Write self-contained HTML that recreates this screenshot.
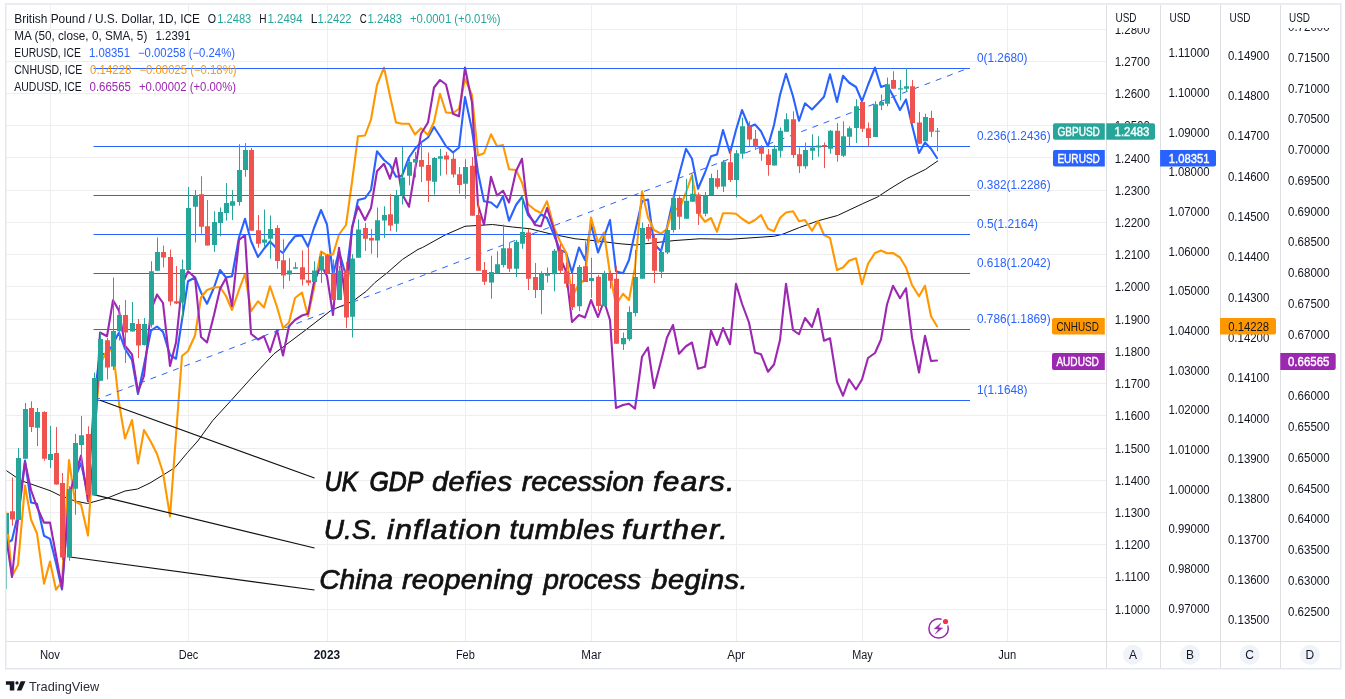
<!DOCTYPE html>
<html><head><meta charset="utf-8"><title>GBPUSD chart</title>
<style>html,body{margin:0;padding:0;background:#fff;width:1345px;height:699px;overflow:hidden}</style></head>
<body>
<svg width="1345" height="699" viewBox="0 0 1345 699" style="position:absolute;left:0;top:0;font-family:'Liberation Sans',sans-serif">
<rect width="1345" height="699" fill="#fff"/>
<defs><clipPath id="pane"><rect x="6" y="5" width="1100" height="636.5"/></clipPath></defs>
<path d="M6 29.5H1106 M6 61.5H1106 M6 93.5H1106 M6 125.5H1106 M6 157.5H1106 M6 190.5H1106 M6 222.5H1106 M6 254.5H1106 M6 286.5H1106 M6 319.5H1106 M6 351.5H1106 M6 383.5H1106 M6 415.5H1106 M6 448.5H1106 M6 480.5H1106 M6 512.5H1106 M6 544.5H1106 M6 577.5H1106 M6 609.5H1106 M50.5 5V641 M188.5 5V641 M327.5 5V641 M465.5 5V641 M591.5 5V641 M736.5 5V641 M862.5 5V641 M1007.5 5V641" stroke="#eeeeee" stroke-width="1" fill="none"/>
<g clip-path="url(#pane)">
<polyline points="5.5,470 21,480.6 50,490.6 59,495 75,501 87.5,503.5 107.5,498 125,491 137.5,489 150,483 168,472 175,467.5 187.5,452.5 197.75,441 212.75,420.5 231.5,400 254,375 274,353.75 304,331.25 331.5,310 344,305 352.75,301.25 366.25,291.25 375,282.5 387.5,272.5 402.5,259.4 418,249.4 422.5,247.5 445,235 465,226.25 492.5,224.5 512.5,227 530,228.75 550,233.75 575,238.75 600,241.25 620,243.75 635,245 650,243.25 675,240.5 700,238.75 730,239.25 774.25,236.25 782.5,234.25 799.5,227.5 818.25,220.75 837.5,215.5 862.5,203.75 877.5,197 890,188.75 906.5,178.75 925.25,169.5 938,160.75" fill="none" stroke="#111" stroke-width="1" stroke-linejoin="round"/>
<polyline points="6.0,543.90 12.0,540.00 18.0,514.50 25.0,460.60 31.0,502.50 37.0,503.75 44.0,535.75 50.0,538.90 56.0,563.00 62.0,589.50 69.0,497.00 75.0,478.00 81.0,463.00 88.0,495.00 94.0,400.00 100.0,352.50 107.0,355.60 113.0,343.75 119.0,332.50 125.0,348.75 132.0,360.00 138.0,394.00 144.0,365.00 151.0,330.60 157.0,326.50 163.0,331.90 170.0,355.00 176.0,358.75 182.0,320.00 188.0,281.25 195.0,277.50 201.0,292.50 207.0,303.75 214.0,287.50 220.0,270.00 226.0,277.50 232.0,276.25 239.0,237.50 245.0,218.75 251.0,241.00 258.0,257.00 264.0,248.75 270.0,241.50 277.0,248.75 283.0,253.00 289.0,243.75 295.0,236.25 302.0,235.50 308.0,246.75 314.0,228.00 321.0,210.00 327.0,224.50 333.0,275.00 339.0,251.00 346.0,276.00 352.0,229.00 358.0,200.00 365.0,198.25 371.0,190.00 377.0,151.25 384.0,160.00 390.0,165.00 396.0,176.75 402.0,175.75 409.0,157.50 415.0,148.75 421.0,142.50 428.0,137.50 434.0,127.00 440.0,136.25 446.0,146.25 453.0,152.50 459.0,147.50 465.0,97.00 472.0,130.00 478.0,172.50 484.0,201.25 491.0,202.50 497.0,207.50 503.0,196.25 509.0,220.75 516.0,205.00 522.0,197.00 528.0,215.00 535.0,223.00 541.0,214.25 547.0,218.00 554.0,235.00 560.0,250.00 566.0,252.50 572.0,272.50 579.0,247.50 585.0,260.00 591.0,223.75 598.0,252.50 604.0,237.00 610.0,220.00 616.0,271.25 623.0,273.25 629.0,260.00 635.0,232.00 642.0,201.25 648.0,199.50 654.0,243.75 661.0,251.25 667.0,227.50 673.0,200.00 679.0,175.00 686.0,148.75 692.0,158.75 698.0,188.75 705.0,172.50 711.0,156.25 717.0,154.50 723.0,130.00 730.0,153.00 736.0,130.00 742.0,110.00 749.0,127.00 755.0,124.50 761.0,131.25 768.0,146.25 774.0,125.00 780.0,95.00 786.0,73.75 793.0,96.25 799.0,120.75 805.0,103.25 812.0,109.50 818.0,103.25 824.0,96.75 830.0,74.25 837.0,102.00 843.0,75.75 849.0,82.50 856.0,87.00 862.0,101.25 868.0,85.00 875.0,67.50 881.0,87.00 887.0,85.00 893.0,95.75 900.0,110.00 906.0,99.50 912.0,125.00 919.0,153.00 925.0,142.50 931.0,148.75 937.0,158.00" fill="none" stroke="#2962ff" stroke-width="2.1" stroke-linejoin="round" stroke-linecap="round"/>
<polyline points="6.0,512.00 12.0,576.00 18.0,565.00 25.0,485.50 31.0,519.50 37.0,533.50 44.0,583.60 50.0,561.60 56.0,589.70 62.0,581.70 69.0,460.00 75.0,501.25 81.0,504.50 88.0,535.50 94.0,440.00 100.0,365.00 107.0,350.00 113.0,350.00 119.0,403.00 125.0,438.50 132.0,420.00 138.0,463.50 144.0,430.00 151.0,442.00 157.0,454.00 163.0,472.50 170.0,516.50 176.0,435.00 182.0,356.00 188.0,351.00 195.0,335.50 201.0,297.50 207.0,290.00 214.0,287.50 220.0,287.00 226.0,296.00 232.0,310.00 239.0,290.00 245.0,273.75 251.0,311.25 258.0,301.25 264.0,307.50 270.0,286.25 277.0,307.00 283.0,328.00 289.0,322.50 295.0,298.00 302.0,292.50 308.0,316.25 314.0,288.00 321.0,251.50 327.0,255.30 333.0,254.50 339.0,234.50 346.0,225.00 352.0,182.00 358.0,136.25 365.0,135.50 371.0,119.50 377.0,85.00 384.0,67.50 390.0,96.00 396.0,122.50 402.0,123.75 409.0,123.75 415.0,134.50 421.0,128.25 428.0,135.00 434.0,122.00 440.0,93.75 446.0,112.50 453.0,113.00 459.0,108.75 465.0,78.75 472.0,95.00 478.0,155.50 484.0,153.25 491.0,134.25 497.0,146.25 503.0,145.00 509.0,169.25 516.0,170.00 522.0,182.50 528.0,204.25 535.0,210.00 541.0,213.00 547.0,201.25 554.0,227.50 560.0,241.25 566.0,252.50 572.0,297.00 579.0,283.75 585.0,280.00 591.0,217.50 598.0,242.50 604.0,232.50 610.0,273.75 616.0,305.00 623.0,293.75 629.0,300.00 635.0,267.50 642.0,191.25 648.0,217.50 654.0,230.00 661.0,233.75 667.0,228.75 673.0,207.50 679.0,210.00 686.0,192.50 692.0,175.00 698.0,212.50 705.0,221.75 711.0,218.00 717.0,231.75 723.0,213.25 730.0,213.25 736.0,213.75 742.0,218.75 749.0,223.25 755.0,220.00 761.0,215.00 768.0,228.75 774.0,231.25 780.0,218.00 786.0,212.50 793.0,211.25 799.0,221.25 805.0,220.00 812.0,230.75 818.0,220.75 824.0,235.00 830.0,238.00 837.0,270.00 843.0,267.50 849.0,260.75 856.0,258.25 862.0,284.25 868.0,263.75 875.0,253.00 881.0,250.50 887.0,253.25 893.0,253.00 900.0,257.50 906.0,267.50 912.0,285.00 919.0,296.25 925.0,285.75 931.0,316.25 937.0,326.25" fill="none" stroke="#ff9800" stroke-width="2.1" stroke-linejoin="round" stroke-linecap="round"/>
<polyline points="6.0,535.75 12.0,577.00 18.0,519.50 25.0,462.00 31.0,490.00 37.0,507.00 44.0,522.60 50.0,522.60 56.0,555.00 62.0,588.00 69.0,495.00 75.0,476.00 81.0,455.60 88.0,501.25 94.0,456.00 100.0,332.50 107.0,336.25 113.0,300.25 119.0,310.60 125.0,345.60 132.0,354.40 138.0,392.00 144.0,376.00 151.0,310.00 157.0,294.60 163.0,303.00 170.0,365.90 176.0,342.50 182.0,285.00 188.0,271.25 195.0,277.50 201.0,337.00 207.0,342.50 214.0,315.00 220.0,289.00 226.0,278.00 232.0,306.00 239.0,240.00 245.0,235.00 251.0,333.75 258.0,339.50 264.0,336.25 270.0,352.00 277.0,330.00 283.0,355.50 289.0,326.25 295.0,320.00 302.0,315.50 308.0,313.75 314.0,282.00 321.0,265.00 327.0,276.00 333.0,315.00 339.0,247.75 346.0,305.00 352.0,227.50 358.0,206.25 365.0,220.00 371.0,208.00 377.0,171.25 384.0,163.75 390.0,178.75 396.0,158.00 402.0,193.75 409.0,206.75 415.0,170.00 421.0,133.75 428.0,122.50 434.0,87.50 440.0,80.00 446.0,84.50 453.0,113.75 459.0,116.25 465.0,67.50 472.0,102.50 478.0,205.00 484.0,224.70 491.0,176.75 497.0,195.50 503.0,190.75 509.0,202.50 516.0,171.25 522.0,158.75 528.0,212.50 535.0,225.00 541.0,226.25 547.0,208.00 554.0,230.00 560.0,257.50 566.0,271.25 572.0,322.00 579.0,315.00 585.0,317.50 591.0,300.00 598.0,317.00 604.0,301.00 610.0,320.00 616.0,408.00 623.0,405.00 629.0,403.75 635.0,408.75 642.0,356.75 648.0,347.50 654.0,388.00 661.0,361.25 667.0,337.50 673.0,325.00 679.0,353.75 686.0,346.25 692.0,342.50 698.0,368.75 705.0,366.75 711.0,330.50 717.0,345.00 723.0,328.00 730.0,344.25 736.0,283.75 742.0,303.75 749.0,322.50 755.0,352.50 761.0,354.25 768.0,371.75 774.0,364.50 780.0,340.00 786.0,283.75 793.0,330.00 799.0,334.25 805.0,318.00 812.0,327.00 818.0,308.75 824.0,340.75 830.0,338.25 837.0,381.75 843.0,395.75 849.0,379.25 856.0,389.50 862.0,379.50 868.0,358.00 875.0,353.00 881.0,339.50 887.0,304.50 893.0,285.75 900.0,298.25 906.0,288.25 912.0,337.50 919.0,372.50 925.0,335.75 931.0,361.00 937.0,360.50" fill="none" stroke="#9c27b0" stroke-width="2.1" stroke-linejoin="round" stroke-linecap="round"/>
<path d="M93.5 68.5H970 M93.5 146.5H970 M93.5 195.5H970 M93.5 234.5H970 M93.5 273.5H970 M93.5 329.5H970 M93.5 400.5H970" stroke="#2962ff" stroke-width="1.1" fill="none"/>
<path d="M94.5 400.3L968 68.3" stroke="#2962ff" stroke-width="1" stroke-dasharray="6 6" fill="none"/>
<text x="977" y="61.9" font-size="12" fill="#2962ff" textLength="50.5" lengthAdjust="spacingAndGlyphs">0(1.2680)</text>
<text x="977" y="139.9" font-size="12" fill="#2962ff" textLength="73.6" lengthAdjust="spacingAndGlyphs">0.236(1.2436)</text>
<text x="977" y="188.9" font-size="12" fill="#2962ff" textLength="73.6" lengthAdjust="spacingAndGlyphs">0.382(1.2286)</text>
<text x="977" y="227.9" font-size="12" fill="#2962ff" textLength="61.1" lengthAdjust="spacingAndGlyphs">0.5(1.2164)</text>
<text x="977" y="266.9" font-size="12" fill="#2962ff" textLength="73.6" lengthAdjust="spacingAndGlyphs">0.618(1.2042)</text>
<text x="977" y="322.9" font-size="12" fill="#2962ff" textLength="73.6" lengthAdjust="spacingAndGlyphs">0.786(1.1869)</text>
<text x="977" y="393.9" font-size="12" fill="#2962ff" textLength="50.5" lengthAdjust="spacingAndGlyphs">1(1.1648)</text>
<path d="M100 400.3L314.5 478M93.8 494.6L314.5 548M70 557L314.5 590" stroke="#111" stroke-width="1.2" fill="none"/>
<path d="M6.5 513.00V589.00 M18.5 448.00V520.00 M25.5 403.00V458.75 M37.5 408.00V446.00 M50.5 426.00V468.00 M69.5 486.25V560.75 M75.5 434.00V514.75 M81.5 416.00V469.50 M94.5 372.50V495.40 M100.5 332.50V380.75 M113.5 277.50V370.00 M119.5 305.00V340.60 M132.5 302.00V331.50 M144.5 318.00V345.60 M151.5 261.25V327.50 M157.5 237.50V271.00 M182.5 259.50V318.75 M188.5 187.00V270.00 M195.5 190.00V242.50 M214.5 211.25V251.75 M220.5 207.50V236.25 M226.5 183.00V220.50 M232.5 190.00V220.00 M239.5 144.25V205.75 M245.5 143.00V176.75 M264.5 209.50V247.50 M270.5 215.50V258.75 M289.5 258.10V280.90 M295.5 262.25V268.75 M314.5 261.25V281.90 M321.5 252.25V282.90 M339.5 266.00V300.00 M352.5 254.10V337.50 M358.5 219.40V257.75 M377.5 207.50V257.75 M384.5 206.25V237.90 M396.5 190.00V231.90 M402.5 147.00V204.50 M409.5 157.50V185.25 M415.5 152.00V177.50 M434.5 157.00V194.50 M440.5 148.75V175.75 M465.5 159.25V198.75 M491.5 255.75V298.75 M497.5 251.25V273.25 M503.5 224.50V267.50 M516.5 240.00V277.00 M522.5 196.25V248.75 M541.5 271.25V314.25 M547.5 267.50V282.50 M554.5 249.00V291.25 M579.5 265.00V311.25 M591.5 257.70V297.80 M604.5 270.75V306.25 M623.5 332.50V350.00 M629.5 306.25V341.25 M635.5 250.00V316.25 M642.5 222.50V278.75 M661.5 248.75V278.00 M667.5 228.00V254.00 M673.5 195.00V232.50 M686.5 178.75V218.75 M692.5 175.00V201.75 M705.5 192.00V216.25 M711.5 173.75V195.00 M723.5 160.00V192.00 M736.5 150.00V197.50 M742.5 117.50V158.75 M774.5 145.00V165.50 M780.5 127.50V157.50 M786.5 113.25V131.75 M805.5 142.50V168.75 M812.5 134.25V160.00 M818.5 136.25V156.75 M830.5 130.00V153.75 M843.5 121.25V157.00 M849.5 126.25V146.25 M856.5 99.25V143.00 M875.5 101.25V137.00 M881.5 94.50V110.00 M887.5 77.50V106.25 M900.5 80.00V100.50 M906.5 68.00V91.25 M925.5 113.75V141.25 M937.5 128.00V151.25" stroke="#26a69a" stroke-width="1" fill="none"/>
<path d="M12.5 477.50V525.70 M31.5 401.25V432.00 M44.5 411.25V460.75 M56.5 427.00V484.60 M62.5 473.00V560.00 M88.5 426.25V501.00 M107.5 338.00V379.50 M125.5 300.00V363.00 M138.5 319.00V358.00 M163.5 245.50V267.50 M170.5 249.50V305.60 M176.5 266.00V304.00 M201.5 176.25V233.75 M207.5 200.00V245.50 M251.5 148.00V230.75 M258.5 215.00V247.75 M277.5 225.25V268.75 M283.5 239.40V288.75 M302.5 250.40V285.60 M308.5 246.90V285.60 M327.5 254.00V273.40 M333.5 259.40V300.00 M346.5 262.25V328.00 M365.5 223.10V250.90 M371.5 229.00V253.75 M390.5 194.25V230.90 M421.5 142.50V182.00 M428.5 152.50V202.00 M446.5 151.75V174.50 M453.5 152.50V177.50 M459.5 167.00V193.75 M472.5 157.00V215.75 M478.5 201.50V270.75 M484.5 262.00V285.00 M509.5 242.50V272.00 M528.5 228.75V290.00 M535.5 263.00V298.00 M560.5 244.00V274.00 M566.5 262.50V287.50 M572.5 273.20V310.00 M585.5 241.25V282.00 M598.5 274.90V311.00 M610.5 270.90V288.60 M616.5 266.25V343.75 M648.5 224.00V241.25 M654.5 233.75V283.00 M679.5 196.25V229.25 M698.5 192.50V225.00 M717.5 170.00V188.75 M730.5 150.00V182.00 M749.5 121.25V146.25 M755.5 130.00V150.00 M761.5 145.00V160.75 M768.5 149.00V175.75 M793.5 111.25V158.00 M799.5 147.50V173.00 M824.5 142.50V168.00 M837.5 123.00V161.75 M862.5 101.25V132.00 M868.5 122.50V146.25 M893.5 71.25V88.75 M912.5 80.00V123.00 M919.5 112.00V143.75 M931.5 110.75V137.00" stroke="#ef5350" stroke-width="1" fill="none"/>
<path d="M4.0 513.00h5V534.00h-5z M16.0 458.00h5V520.00h-5z M23.0 409.00h5V458.75h-5z M35.0 412.00h5V427.75h-5z M48.0 454.00h5V460.00h-5z M67.0 489.00h5V557.40h-5z M73.0 443.00h5V488.75h-5z M79.0 435.25h5V445.00h-5z M92.0 378.00h5V495.40h-5z M98.0 339.00h5V380.75h-5z M111.0 331.00h5V366.50h-5z M117.0 315.00h5V331.25h-5z M130.0 323.00h5V331.50h-5z M142.0 324.00h5V345.00h-5z M149.0 271.25h5V324.75h-5z M155.0 252.00h5V270.75h-5z M180.0 269.25h5V302.50h-5z M186.0 208.00h5V270.00h-5z M193.0 195.50h5V206.75h-5z M212.0 222.00h5V245.00h-5z M218.0 212.00h5V223.00h-5z M224.0 203.00h5V213.00h-5z M230.0 201.25h5V205.75h-5z M237.0 170.00h5V202.00h-5z M243.0 150.00h5V170.00h-5z M262.0 239.40h5V242.75h-5z M268.0 229.00h5V238.75h-5z M287.0 270.40h5V274.60h-5z M293.0 267.25h5V268.75h-5z M312.0 270.40h5V281.90h-5z M319.0 256.25h5V270.60h-5z M337.0 270.40h5V300.00h-5z M350.0 258.40h5V316.75h-5z M356.0 229.40h5V257.75h-5z M375.0 220.25h5V240.60h-5z M382.0 215.00h5V220.60h-5z M394.0 195.50h5V223.75h-5z M400.0 177.50h5V195.00h-5z M407.0 162.00h5V175.75h-5z M413.0 159.00h5V162.50h-5z M432.0 158.00h5V181.75h-5z M438.0 156.25h5V158.75h-5z M463.0 167.00h5V183.75h-5z M489.0 272.00h5V282.50h-5z M495.0 264.25h5V273.25h-5z M501.0 248.25h5V265.00h-5z M514.0 242.00h5V268.75h-5z M520.0 232.00h5V243.75h-5z M539.0 273.25h5V290.00h-5z M545.0 273.75h5V275.75h-5z M552.0 250.75h5V274.25h-5z M577.0 267.00h5V306.25h-5z M589.0 278.10h5V281.00h-5z M602.0 273.25h5V306.25h-5z M621.0 338.00h5V344.25h-5z M627.0 312.00h5V339.25h-5z M633.0 277.00h5V313.00h-5z M640.0 228.00h5V278.75h-5z M659.0 252.00h5V271.75h-5z M665.0 230.00h5V252.50h-5z M671.0 198.00h5V230.00h-5z M684.0 200.75h5V218.75h-5z M690.0 193.75h5V201.75h-5z M703.0 195.75h5V213.75h-5z M709.0 178.00h5V195.00h-5z M721.0 161.75h5V186.50h-5z M734.0 153.25h5V180.00h-5z M740.0 126.25h5V153.75h-5z M772.0 148.75h5V165.50h-5z M778.0 130.75h5V150.75h-5z M784.0 119.25h5V131.75h-5z M803.0 150.00h5V166.25h-5z M810.0 147.50h5V150.75h-5z M816.0 145.50h5V147.50h-5z M828.0 130.75h5V148.75h-5z M841.0 136.25h5V155.75h-5z M847.0 128.25h5V136.75h-5z M854.0 106.25h5V128.00h-5z M873.0 104.25h5V137.00h-5z M879.0 102.00h5V105.50h-5z M885.0 84.25h5V103.75h-5z M898.0 88.25h5V89.50h-5z M904.0 86.25h5V88.75h-5z M923.0 117.00h5V141.25h-5z M935.0 130.75h5V131.75h-5z" fill="#26a69a"/>
<path d="M10.0 511.30h5V519.50h-5z M29.0 408.00h5V427.00h-5z M42.0 412.00h5V458.75h-5z M54.0 453.00h5V484.60h-5z M60.0 483.00h5V557.50h-5z M86.0 434.00h5V495.00h-5z M105.0 340.25h5V367.50h-5z M123.0 315.00h5V332.50h-5z M136.0 324.00h5V345.60h-5z M161.0 252.00h5V257.50h-5z M168.0 257.00h5V301.50h-5z M174.0 301.25h5V303.50h-5z M199.0 194.25h5V226.75h-5z M205.0 226.25h5V245.50h-5z M249.0 150.00h5V230.75h-5z M256.0 230.25h5V243.75h-5z M275.0 228.10h5V260.90h-5z M281.0 260.25h5V275.60h-5z M300.0 267.25h5V279.60h-5z M306.0 280.25h5V282.75h-5z M325.0 255.25h5V273.40h-5z M331.0 273.40h5V300.00h-5z M344.0 270.40h5V317.50h-5z M363.0 228.10h5V238.75h-5z M369.0 238.10h5V240.60h-5z M388.0 214.25h5V225.60h-5z M419.0 160.00h5V166.75h-5z M426.0 165.00h5V180.75h-5z M444.0 155.50h5V159.50h-5z M451.0 158.75h5V174.50h-5z M457.0 174.25h5V185.00h-5z M470.0 165.75h5V215.75h-5z M476.0 215.00h5V270.75h-5z M482.0 270.00h5V281.75h-5z M507.0 248.25h5V268.75h-5z M526.0 232.50h5V278.75h-5z M533.0 277.00h5V290.00h-5z M558.0 250.75h5V270.75h-5z M564.0 271.25h5V283.75h-5z M570.0 284.00h5V307.30h-5z M583.0 266.25h5V282.00h-5z M596.0 276.80h5V306.10h-5z M608.0 273.40h5V280.80h-5z M614.0 278.75h5V343.75h-5z M646.0 227.00h5V238.75h-5z M652.0 238.00h5V270.75h-5z M677.0 198.00h5V216.75h-5z M696.0 194.50h5V213.75h-5z M715.0 178.25h5V186.75h-5z M728.0 162.25h5V180.00h-5z M747.0 126.25h5V139.50h-5z M753.0 138.75h5V146.25h-5z M759.0 147.00h5V153.75h-5z M766.0 154.50h5V165.00h-5z M791.0 119.25h5V155.00h-5z M797.0 154.25h5V166.25h-5z M822.0 145.00h5V146.50h-5z M835.0 130.75h5V155.00h-5z M860.0 102.00h5V128.75h-5z M866.0 128.25h5V138.00h-5z M891.0 80.00h5V88.75h-5z M910.0 86.25h5V123.00h-5z M917.0 122.50h5V143.75h-5z M929.0 118.00h5V131.75h-5z" fill="#ef5350"/>
</g>
<text y="491.2" font-size="28" font-style="italic" fill="#111" stroke="#111"><tspan x="324.7" textLength="32.6" lengthAdjust="spacingAndGlyphs" stroke-width="1.05">UK</tspan> <tspan x="369.6" textLength="52.7" lengthAdjust="spacingAndGlyphs" stroke-width="1.05">GDP</tspan> <tspan x="431.9" textLength="80.6" lengthAdjust="spacingAndGlyphs" stroke-width="0.7" letter-spacing="0.49">defies</tspan> <tspan x="521.8" textLength="122.5" lengthAdjust="spacingAndGlyphs" stroke-width="0.7">recession</tspan> <tspan x="653.1" textLength="82.3" lengthAdjust="spacingAndGlyphs" stroke-width="0.7" letter-spacing="0.99">fears.</tspan></text>
<text y="539.0" font-size="28" font-style="italic" fill="#111" stroke="#111"><tspan x="323.8" textLength="54.6" lengthAdjust="spacingAndGlyphs" stroke-width="0.7">U.S.</tspan> <tspan x="387.1" textLength="114.9" lengthAdjust="spacingAndGlyphs" stroke-width="0.7" letter-spacing="0.97">inflation</tspan> <tspan x="509.5" textLength="105.6" lengthAdjust="spacingAndGlyphs" stroke-width="0.7" letter-spacing="0.51">tumbles</tspan> <tspan x="621.9" textLength="107.4" lengthAdjust="spacingAndGlyphs" stroke-width="0.7" letter-spacing="1.2">further.</tspan></text>
<text y="588.5" font-size="28" font-style="italic" fill="#111" stroke="#111"><tspan x="319.2" textLength="73.8" lengthAdjust="spacingAndGlyphs" stroke-width="0.7">China</tspan> <tspan x="401.9" textLength="130.9" lengthAdjust="spacingAndGlyphs" stroke-width="0.7" letter-spacing="0.3">reopening</tspan> <tspan x="543.4" textLength="97.5" lengthAdjust="spacingAndGlyphs" stroke-width="0.72">process</tspan> <tspan x="651.3" textLength="96.7" lengthAdjust="spacingAndGlyphs" stroke-width="0.7" letter-spacing="0.39">begins.</tspan></text>
<text y="22.8" font-size="12" fill="#131722"><tspan x="14.3" fill="#131722" textLength="185.7" lengthAdjust="spacingAndGlyphs">British Pound / U.S. Dollar, 1D, ICE</tspan><tspan x="207.7" fill="#131722" textLength="8.3" lengthAdjust="spacingAndGlyphs">O</tspan><tspan x="217.3" fill="#26a69a" textLength="34" lengthAdjust="spacingAndGlyphs">1.2483</tspan><tspan x="259.3" fill="#131722" textLength="7.3" lengthAdjust="spacingAndGlyphs">H</tspan><tspan x="267.5" fill="#26a69a" textLength="35" lengthAdjust="spacingAndGlyphs">1.2494</tspan><tspan x="310.7" fill="#131722">L</tspan><tspan x="317.5" fill="#26a69a" textLength="34" lengthAdjust="spacingAndGlyphs">1.2422</tspan><tspan x="359.7" fill="#131722" textLength="7" lengthAdjust="spacingAndGlyphs">C</tspan><tspan x="367.5" fill="#26a69a" textLength="34.5" lengthAdjust="spacingAndGlyphs">1.2483</tspan><tspan x="410" fill="#26a69a" textLength="90.5" lengthAdjust="spacingAndGlyphs">+0.0001 (+0.01%)</tspan></text>
<text y="39.8" font-size="12" fill="#131722"><tspan x="14.3" fill="#131722" textLength="133" lengthAdjust="spacingAndGlyphs">MA (50, close, 0, SMA, 5)</tspan><tspan x="155.5" fill="#131722" textLength="35" lengthAdjust="spacingAndGlyphs">1.2391</tspan></text>
<text y="56.6" font-size="12" fill="#131722"><tspan x="14.3" fill="#131722" textLength="66.5" lengthAdjust="spacingAndGlyphs">EURUSD, ICE</tspan><tspan x="89" fill="#2962ff" textLength="41" lengthAdjust="spacingAndGlyphs">1.08351</tspan><tspan x="138" fill="#2962ff" textLength="97" lengthAdjust="spacingAndGlyphs">−0.00258 (−0.24%)</tspan></text>
<text y="73.6" font-size="12" fill="#131722"><tspan x="14.3" fill="#131722" textLength="68" lengthAdjust="spacingAndGlyphs">CNHUSD, ICE</tspan><tspan x="90" fill="#ff9800" textLength="41.5" lengthAdjust="spacingAndGlyphs">0.14228</tspan><tspan x="139.5" fill="#ff9800" textLength="97" lengthAdjust="spacingAndGlyphs">−0.00025 (−0.18%)</tspan></text>
<text y="90.6" font-size="12" fill="#131722"><tspan x="14.3" fill="#131722" textLength="67.5" lengthAdjust="spacingAndGlyphs">AUDUSD, ICE</tspan><tspan x="89.5" fill="#9c27b0" textLength="41.5" lengthAdjust="spacingAndGlyphs">0.66565</tspan><tspan x="139" fill="#9c27b0" textLength="97" lengthAdjust="spacingAndGlyphs">+0.00002 (+0.00%)</tspan></text>
<rect x="1106" y="5" width="234" height="663" fill="#fff"/>
<text x="1114.7" y="33.6" font-size="12" fill="#131722" textLength="35.2" lengthAdjust="spacingAndGlyphs">1.2800</text>
<text x="1114.7" y="65.8" font-size="12" fill="#131722" textLength="35.2" lengthAdjust="spacingAndGlyphs">1.2700</text>
<text x="1114.7" y="98.0" font-size="12" fill="#131722" textLength="35.2" lengthAdjust="spacingAndGlyphs">1.2600</text>
<text x="1114.7" y="130.3" font-size="12" fill="#131722" textLength="35.2" lengthAdjust="spacingAndGlyphs">1.2500</text>
<text x="1114.7" y="162.5" font-size="12" fill="#131722" textLength="35.2" lengthAdjust="spacingAndGlyphs">1.2400</text>
<text x="1114.7" y="194.7" font-size="12" fill="#131722" textLength="35.2" lengthAdjust="spacingAndGlyphs">1.2300</text>
<text x="1114.7" y="226.9" font-size="12" fill="#131722" textLength="35.2" lengthAdjust="spacingAndGlyphs">1.2200</text>
<text x="1114.7" y="259.1" font-size="12" fill="#131722" textLength="35.2" lengthAdjust="spacingAndGlyphs">1.2100</text>
<text x="1114.7" y="291.4" font-size="12" fill="#131722" textLength="35.2" lengthAdjust="spacingAndGlyphs">1.2000</text>
<text x="1114.7" y="323.6" font-size="12" fill="#131722" textLength="35.2" lengthAdjust="spacingAndGlyphs">1.1900</text>
<text x="1114.7" y="355.8" font-size="12" fill="#131722" textLength="35.2" lengthAdjust="spacingAndGlyphs">1.1800</text>
<text x="1114.7" y="388.0" font-size="12" fill="#131722" textLength="35.2" lengthAdjust="spacingAndGlyphs">1.1700</text>
<text x="1114.7" y="420.2" font-size="12" fill="#131722" textLength="35.2" lengthAdjust="spacingAndGlyphs">1.1600</text>
<text x="1114.7" y="452.5" font-size="12" fill="#131722" textLength="35.2" lengthAdjust="spacingAndGlyphs">1.1500</text>
<text x="1114.7" y="484.7" font-size="12" fill="#131722" textLength="35.2" lengthAdjust="spacingAndGlyphs">1.1400</text>
<text x="1114.7" y="516.9" font-size="12" fill="#131722" textLength="35.2" lengthAdjust="spacingAndGlyphs">1.1300</text>
<text x="1114.7" y="549.1" font-size="12" fill="#131722" textLength="35.2" lengthAdjust="spacingAndGlyphs">1.1200</text>
<text x="1114.7" y="581.3" font-size="12" fill="#131722" textLength="35.2" lengthAdjust="spacingAndGlyphs">1.1100</text>
<text x="1114.7" y="613.6" font-size="12" fill="#131722" textLength="35.2" lengthAdjust="spacingAndGlyphs">1.1000</text>
<text x="1168.4" y="57.1" font-size="12" fill="#131722" textLength="41.2" lengthAdjust="spacingAndGlyphs">1.11000</text>
<text x="1168.4" y="96.8" font-size="12" fill="#131722" textLength="41.2" lengthAdjust="spacingAndGlyphs">1.10000</text>
<text x="1168.4" y="136.5" font-size="12" fill="#131722" textLength="41.2" lengthAdjust="spacingAndGlyphs">1.09000</text>
<text x="1168.4" y="176.2" font-size="12" fill="#131722" textLength="41.2" lengthAdjust="spacingAndGlyphs">1.08000</text>
<text x="1168.4" y="215.9" font-size="12" fill="#131722" textLength="41.2" lengthAdjust="spacingAndGlyphs">1.07000</text>
<text x="1168.4" y="255.6" font-size="12" fill="#131722" textLength="41.2" lengthAdjust="spacingAndGlyphs">1.06000</text>
<text x="1168.4" y="295.2" font-size="12" fill="#131722" textLength="41.2" lengthAdjust="spacingAndGlyphs">1.05000</text>
<text x="1168.4" y="334.9" font-size="12" fill="#131722" textLength="41.2" lengthAdjust="spacingAndGlyphs">1.04000</text>
<text x="1168.4" y="374.6" font-size="12" fill="#131722" textLength="41.2" lengthAdjust="spacingAndGlyphs">1.03000</text>
<text x="1168.4" y="414.3" font-size="12" fill="#131722" textLength="41.2" lengthAdjust="spacingAndGlyphs">1.02000</text>
<text x="1168.4" y="454.0" font-size="12" fill="#131722" textLength="41.2" lengthAdjust="spacingAndGlyphs">1.01000</text>
<text x="1168.4" y="493.7" font-size="12" fill="#131722" textLength="41.2" lengthAdjust="spacingAndGlyphs">1.00000</text>
<text x="1168.4" y="533.4" font-size="12" fill="#131722" textLength="41.2" lengthAdjust="spacingAndGlyphs">0.99000</text>
<text x="1168.4" y="573.1" font-size="12" fill="#131722" textLength="41.2" lengthAdjust="spacingAndGlyphs">0.98000</text>
<text x="1168.4" y="612.8" font-size="12" fill="#131722" textLength="41.2" lengthAdjust="spacingAndGlyphs">0.97000</text>
<text x="1228" y="59.5" font-size="12" fill="#131722" textLength="41.3" lengthAdjust="spacingAndGlyphs">0.14900</text>
<text x="1228" y="99.9" font-size="12" fill="#131722" textLength="41.3" lengthAdjust="spacingAndGlyphs">0.14800</text>
<text x="1228" y="140.2" font-size="12" fill="#131722" textLength="41.3" lengthAdjust="spacingAndGlyphs">0.14700</text>
<text x="1228" y="180.6" font-size="12" fill="#131722" textLength="41.3" lengthAdjust="spacingAndGlyphs">0.14600</text>
<text x="1228" y="220.9" font-size="12" fill="#131722" textLength="41.3" lengthAdjust="spacingAndGlyphs">0.14500</text>
<text x="1228" y="261.2" font-size="12" fill="#131722" textLength="41.3" lengthAdjust="spacingAndGlyphs">0.14400</text>
<text x="1228" y="301.6" font-size="12" fill="#131722" textLength="41.3" lengthAdjust="spacingAndGlyphs">0.14300</text>
<text x="1228" y="341.9" font-size="12" fill="#131722" textLength="41.3" lengthAdjust="spacingAndGlyphs">0.14200</text>
<text x="1228" y="382.3" font-size="12" fill="#131722" textLength="41.3" lengthAdjust="spacingAndGlyphs">0.14100</text>
<text x="1228" y="422.7" font-size="12" fill="#131722" textLength="41.3" lengthAdjust="spacingAndGlyphs">0.14000</text>
<text x="1228" y="463.0" font-size="12" fill="#131722" textLength="41.3" lengthAdjust="spacingAndGlyphs">0.13900</text>
<text x="1228" y="503.4" font-size="12" fill="#131722" textLength="41.3" lengthAdjust="spacingAndGlyphs">0.13800</text>
<text x="1228" y="543.7" font-size="12" fill="#131722" textLength="41.3" lengthAdjust="spacingAndGlyphs">0.13700</text>
<text x="1228" y="584.1" font-size="12" fill="#131722" textLength="41.3" lengthAdjust="spacingAndGlyphs">0.13600</text>
<text x="1228" y="624.4" font-size="12" fill="#131722" textLength="41.3" lengthAdjust="spacingAndGlyphs">0.13500</text>
<text x="1288" y="30.9" font-size="12" fill="#131722" textLength="41.6" lengthAdjust="spacingAndGlyphs">0.72000</text>
<text x="1288" y="61.7" font-size="12" fill="#131722" textLength="41.6" lengthAdjust="spacingAndGlyphs">0.71500</text>
<text x="1288" y="92.5" font-size="12" fill="#131722" textLength="41.6" lengthAdjust="spacingAndGlyphs">0.71000</text>
<text x="1288" y="123.2" font-size="12" fill="#131722" textLength="41.6" lengthAdjust="spacingAndGlyphs">0.70500</text>
<text x="1288" y="154.0" font-size="12" fill="#131722" textLength="41.6" lengthAdjust="spacingAndGlyphs">0.70000</text>
<text x="1288" y="184.8" font-size="12" fill="#131722" textLength="41.6" lengthAdjust="spacingAndGlyphs">0.69500</text>
<text x="1288" y="215.6" font-size="12" fill="#131722" textLength="41.6" lengthAdjust="spacingAndGlyphs">0.69000</text>
<text x="1288" y="246.4" font-size="12" fill="#131722" textLength="41.6" lengthAdjust="spacingAndGlyphs">0.68500</text>
<text x="1288" y="277.1" font-size="12" fill="#131722" textLength="41.6" lengthAdjust="spacingAndGlyphs">0.68000</text>
<text x="1288" y="307.9" font-size="12" fill="#131722" textLength="41.6" lengthAdjust="spacingAndGlyphs">0.67500</text>
<text x="1288" y="338.7" font-size="12" fill="#131722" textLength="41.6" lengthAdjust="spacingAndGlyphs">0.67000</text>
<text x="1288" y="369.5" font-size="12" fill="#131722" textLength="41.6" lengthAdjust="spacingAndGlyphs">0.66500</text>
<text x="1288" y="400.3" font-size="12" fill="#131722" textLength="41.6" lengthAdjust="spacingAndGlyphs">0.66000</text>
<text x="1288" y="431.0" font-size="12" fill="#131722" textLength="41.6" lengthAdjust="spacingAndGlyphs">0.65500</text>
<text x="1288" y="461.8" font-size="12" fill="#131722" textLength="41.6" lengthAdjust="spacingAndGlyphs">0.65000</text>
<text x="1288" y="492.6" font-size="12" fill="#131722" textLength="41.6" lengthAdjust="spacingAndGlyphs">0.64500</text>
<text x="1288" y="523.4" font-size="12" fill="#131722" textLength="41.6" lengthAdjust="spacingAndGlyphs">0.64000</text>
<text x="1288" y="554.2" font-size="12" fill="#131722" textLength="41.6" lengthAdjust="spacingAndGlyphs">0.63500</text>
<text x="1288" y="584.9" font-size="12" fill="#131722" textLength="41.6" lengthAdjust="spacingAndGlyphs">0.63000</text>
<text x="1288" y="615.7" font-size="12" fill="#131722" textLength="41.6" lengthAdjust="spacingAndGlyphs">0.62500</text>
<rect x="1107" y="5" width="233" height="23" fill="#fff"/>
<text x="1115.5" y="21.6" font-size="12" fill="#131722" textLength="21" lengthAdjust="spacingAndGlyphs">USD</text>
<text x="1169.5" y="21.6" font-size="12" fill="#131722" textLength="21" lengthAdjust="spacingAndGlyphs">USD</text>
<text x="1229.5" y="21.6" font-size="12" fill="#131722" textLength="21" lengthAdjust="spacingAndGlyphs">USD</text>
<text x="1289" y="21.6" font-size="12" fill="#131722" textLength="21" lengthAdjust="spacingAndGlyphs">USD</text>
<path d="M1106.5 5V668M1160.5 5V668M1220.5 5V668M1280.5 5V668M6 641.5H1340" stroke="#dedfe3" stroke-width="1" fill="none"/>
<rect x="1107" y="642" width="233" height="26" fill="#fff"/>
<path d="M1106.5 641V668M1160.5 641V668M1220.5 641V668M1280.5 641V668" stroke="#dedfe3" stroke-width="1" fill="none"/>
<circle cx="1132.9" cy="654.7" r="10" fill="#f0f3fa"/><text x="1132.9" y="658.8" font-size="12" text-anchor="middle" fill="#131722">A</text>
<circle cx="1190" cy="654.7" r="10" fill="#f0f3fa"/><text x="1190" y="658.8" font-size="12" text-anchor="middle" fill="#131722">B</text>
<circle cx="1249.6" cy="654.7" r="10" fill="#f0f3fa"/><text x="1249.6" y="658.8" font-size="12" text-anchor="middle" fill="#131722">C</text>
<circle cx="1309.9" cy="654.7" r="10" fill="#f0f3fa"/><text x="1309.9" y="658.8" font-size="12" text-anchor="middle" fill="#131722">D</text>
<path d="M1055 123.3H1104.8V139.8H1055a2 2 0 0 1-2-2V125.3a2 2 0 0 1 2-2z" fill="#26a69a"/>
<path d="M1106.3 123.3H1153a2 2 0 0 1 2 2V137.8a2 2 0 0 1-2 2H1106.3z" fill="#26a69a"/>
<text x="1057.4" y="135.9" font-size="12" fill="#fff" stroke="#fff" stroke-width="0.4" textLength="42.5" lengthAdjust="spacingAndGlyphs">GBPUSD</text>
<text x="1114.6" y="135.9" font-size="12" fill="#fff" stroke="#fff" stroke-width="0.4" textLength="34.8" lengthAdjust="spacingAndGlyphs">1.2483</text>
<path d="M1055 150.1H1104.8V166.5H1055a2 2 0 0 1-2-2V152.1a2 2 0 0 1 2-2z" fill="#2962ff"/>
<path d="M1160.1 150.1H1214a2 2 0 0 1 2 2V164.5a2 2 0 0 1-2 2H1160.1z" fill="#2962ff"/>
<text x="1057.4" y="162.6" font-size="12" fill="#fff" stroke="#fff" stroke-width="0.4" textLength="42.5" lengthAdjust="spacingAndGlyphs">EURUSD</text>
<text x="1168.8" y="162.6" font-size="12" fill="#fff" stroke="#fff" stroke-width="0.4" textLength="40.6" lengthAdjust="spacingAndGlyphs">1.08351</text>
<path d="M1054 318H1104.8V334.4H1054a2 2 0 0 1-2-2V320a2 2 0 0 1 2-2z" fill="#ff9800"/>
<path d="M1220 318H1274a2 2 0 0 1 2 2V332.4a2 2 0 0 1-2 2H1220z" fill="#ff9800"/>
<text x="1056.4" y="330.5" font-size="12" fill="#131722" textLength="42.5" lengthAdjust="spacingAndGlyphs">CNHUSD</text>
<text x="1228.2" y="330.5" font-size="12" fill="#131722" textLength="41" lengthAdjust="spacingAndGlyphs">0.14228</text>
<path d="M1054 353H1104.8V370H1054a2 2 0 0 1-2-2V355a2 2 0 0 1 2-2z" fill="#9c27b0"/>
<path d="M1280.3 353H1333.7a2 2 0 0 1 2 2V368a2 2 0 0 1-2 2H1280.3z" fill="#9c27b0"/>
<text x="1056.4" y="365.8" font-size="12" fill="#fff" stroke="#fff" stroke-width="0.4" textLength="42.5" lengthAdjust="spacingAndGlyphs">AUDUSD</text>
<text x="1288" y="365.8" font-size="12" fill="#fff" stroke="#fff" stroke-width="0.4" textLength="41.4" lengthAdjust="spacingAndGlyphs">0.66565</text>
<text x="40.0" y="658.9" font-size="12" fill="#131722" textLength="20" lengthAdjust="spacingAndGlyphs">Nov</text>
<text x="178.8" y="658.9" font-size="12" fill="#131722" textLength="19.5" lengthAdjust="spacingAndGlyphs">Dec</text>
<text x="313.7" y="658.9" font-size="12" font-weight="bold" fill="#131722" textLength="26.4" lengthAdjust="spacingAndGlyphs">2023</text>
<text x="455.9" y="658.9" font-size="12" fill="#131722" textLength="18.9" lengthAdjust="spacingAndGlyphs">Feb</text>
<text x="581.3" y="658.9" font-size="12" fill="#131722" textLength="20" lengthAdjust="spacingAndGlyphs">Mar</text>
<text x="727.2" y="658.9" font-size="12" fill="#131722" textLength="18" lengthAdjust="spacingAndGlyphs">Apr</text>
<text x="852.2" y="658.9" font-size="12" fill="#131722" textLength="20.5" lengthAdjust="spacingAndGlyphs">May</text>
<text x="998.2" y="658.9" font-size="12" fill="#131722" textLength="18" lengthAdjust="spacingAndGlyphs">Jun</text>
<circle cx="938.6" cy="628.4" r="9.7" fill="none" stroke="#9c27b0" stroke-width="1.5"/>
<path d="M941 623L934.2 628.7L938.5 629.3L935.1 634L942.7 628.1L938.5 627.6z" fill="#9c27b0" stroke="#9c27b0" stroke-width="0.35" stroke-linejoin="round"/>
<circle cx="945.5" cy="621.5" r="4.5" fill="#fff"/><circle cx="945.5" cy="621.5" r="2.6" fill="#f23645"/>
<rect x="5.75" y="3.95" width="1335" height="664.8" fill="none" stroke="#e4e7f0" stroke-width="1.5"/>
<path d="M5.9 681.2H14.3V690.6H9.8V684.7H5.9z M20.7 681.2H25.5L21.4 690.6H16.8z" fill="#131722"/><circle cx="17" cy="682.9" r="1.6" fill="#131722"/>
<text x="29" y="690.7" font-size="12.7" fill="#2a2e39" textLength="70.3" lengthAdjust="spacingAndGlyphs">TradingView</text>
</svg>
</body></html>
